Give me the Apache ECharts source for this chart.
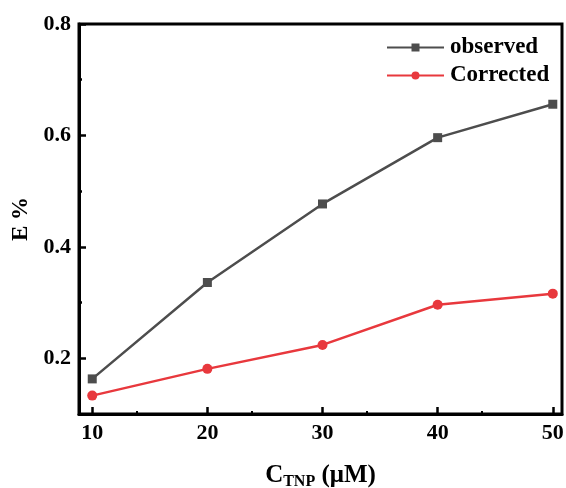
<!DOCTYPE html>
<html><head><meta charset="utf-8">
<script src="https://cdn.jsdelivr.net/npm/echarts@6/dist/echarts.min.js"></script>
<style>html,body{margin:0;padding:0;background:#fff}#c{width:566px;height:488px}</style>
</head><body><div id="c"></div>
<script>
const concentrations = [10, 20, 30, 40, 50];
const observed = [0.163, 0.336, 0.477, 0.596, 0.656];
const corrected = [0.133, 0.181, 0.224, 0.296, 0.316];
const seriesNames = ['observed', 'Corrected'];
const yMajor = [0.2, 0.4, 0.6, 0.8];
const yMinor = [0.3, 0.5, 0.7];

const font = 'Liberation Serif';
const chart = echarts.init(document.getElementById('c'));
chart.setOption({
  animation: false,
  backgroundColor: '#fff',
  grid: {left: 79, right: 4, top: 24, bottom: 74, show: true, borderColor: '#000', borderWidth: 3,
         outerBoundsMode: 'none', containLabel: false},
  legend: {
    data: seriesNames, orient: 'vertical', left: 381, top: 31,
    itemWidth: 57, itemHeight: 10, itemGap: 5,
    textStyle: {fontFamily: font, fontWeight: 'bold', fontSize: 23, color: '#000', padding: [0, 0, 0, 1]}
  },
  xAxis: {
    type: 'value', min: 8.85, max: 50.8, interval: 10,
    axisLine: {lineStyle: {color: '#000', width: 3}},
    axisTick: {inside: true, length: 7, lineStyle: {width: 2.5, color: '#000'}, customValues: concentrations},
    minorTick: {show: true, splitNumber: 2, length: 3, lineStyle: {width: 2, color: '#000'}},
    splitLine: {show: false},
    axisLabel: {fontFamily: font, fontWeight: 'bold', fontSize: 22, color: '#000', margin: 8,
      customValues: concentrations},
    name: '{a|C}{b|TNP}{a| (μM)}', nameLocation: 'middle', nameGap: 48,
    nameTextStyle: {rich: {
      a: {fontFamily: font, fontWeight: 'bold', fontSize: 25, color: '#000'},
      b: {fontFamily: font, fontWeight: 'bold', fontSize: 16, color: '#000', padding: [12, 0, 0, 0]}
    }}
  },
  yAxis: [{
    type: 'value', min: 0.1, max: 0.8, interval: 0.1,
    axisLine: {lineStyle: {color: '#000', width: 3}},
    axisTick: {inside: true, length: 7, lineStyle: {width: 2.5, color: '#000'}, customValues: yMajor},
    splitLine: {show: false},
    axisLabel: {fontFamily: font, fontWeight: 'bold', fontSize: 22, color: '#000', margin: 8,
      customValues: yMajor},
    name: 'E %', nameLocation: 'middle', nameGap: 45,
    nameTextStyle: {fontFamily: font, fontWeight: 'bold', fontSize: 23, color: '#000'}
  }, {
    type: 'value', min: 0.1, max: 0.8, interval: 0.1, position: 'left',
    axisLine: {show: false},
    axisTick: {inside: true, length: 3, lineStyle: {width: 2.5, color: '#000'}, customValues: yMinor},
    axisLabel: {show: false},
    splitLine: {show: false}
  }],
  series: [
    {name: seriesNames[0], type: 'line', data: concentrations.map((c, i) => [c, observed[i]]),
     symbol: 'rect', symbolSize: 9, color: '#4d4d4d', lineStyle: {width: 2.5, color: '#4d4d4d'}},
    {name: seriesNames[1], type: 'line', data: concentrations.map((c, i) => [c, corrected[i]]),
     symbol: 'circle', symbolSize: 10, color: '#e8383d', lineStyle: {width: 2.5, color: '#e8383d'}}
  ]
});
</script></body></html>
